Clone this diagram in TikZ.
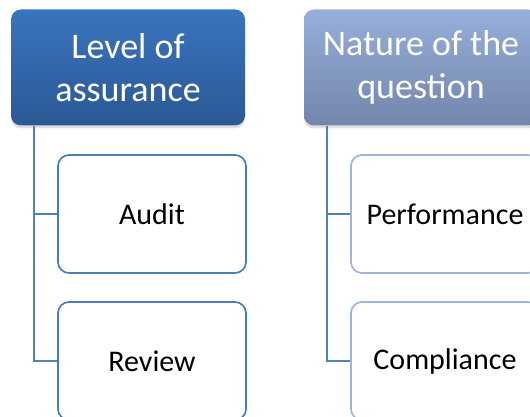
\documentclass[tikz,border=0pt]{standalone}
\usepackage{fontspec}
\setmainfont{Carlito}
\usepackage{tikz}
\usetikzlibrary{shadows}
\definecolor{hdrAtop}{HTML}{3A74BE}
\definecolor{hdrAbot}{HTML}{2B5894}
\definecolor{hdrBtop}{HTML}{96AFDB}
\definecolor{hdrBbot}{HTML}{7385AB}
\definecolor{linkblue}{HTML}{4F81BD}
\definecolor{edgeA}{HTML}{4A7EBB}
\definecolor{edgeB}{HTML}{9DB4DC}

\begin{document}
\begin{tikzpicture}[x=1pt,y=-1pt]
\tikzstyle{every node}+=[inner sep=0pt]
\tikzstyle{header}=[rounded corners=10pt, minimum width=234pt, minimum height=116pt,
  align=center, text=white, font=\fontsize{36}{43}\selectfont,
  drop shadow={shadow xshift=0pt, shadow yshift=-3pt, opacity=0.25}]
\tikzstyle{item}=[draw, line width=1.7pt, rounded corners=11pt, fill=white,
  minimum width=188pt, minimum height=118pt, font=\fontsize{30}{36}\selectfont]
\tikzstyle{link}=[draw=linkblue, line width=1.7pt]
\useasboundingbox (0,0) rectangle (530,417);
\node [header, top color=hdrAtop, bottom color=hdrAbot] (lvl) at (128,67.5) {Level of\\assurance};
\node [header, top color=hdrBtop, bottom color=hdrBbot] (nat) at (421,67.5) {Nature of the\\question};
\node [item, draw=edgeA] (audit) at (152,214) {Audit};
\node [item, draw=edgeA] (review) at (152,361) {Review};
\node [item, draw=edgeB] (perf) at (445,214) {Performance};
\node [item, draw=edgeB] (comp) at (445,361) {Compliance};
\draw [link] ([xshift=23pt]lvl.south west) |- (audit.west);
\draw [link] ([xshift=23pt]lvl.south west) |- (review.west);
\draw [link] ([xshift=23pt]nat.south west) |- (perf.west);
\draw [link] ([xshift=23pt]nat.south west) |- (comp.west);
\end{tikzpicture}
\end{document}
